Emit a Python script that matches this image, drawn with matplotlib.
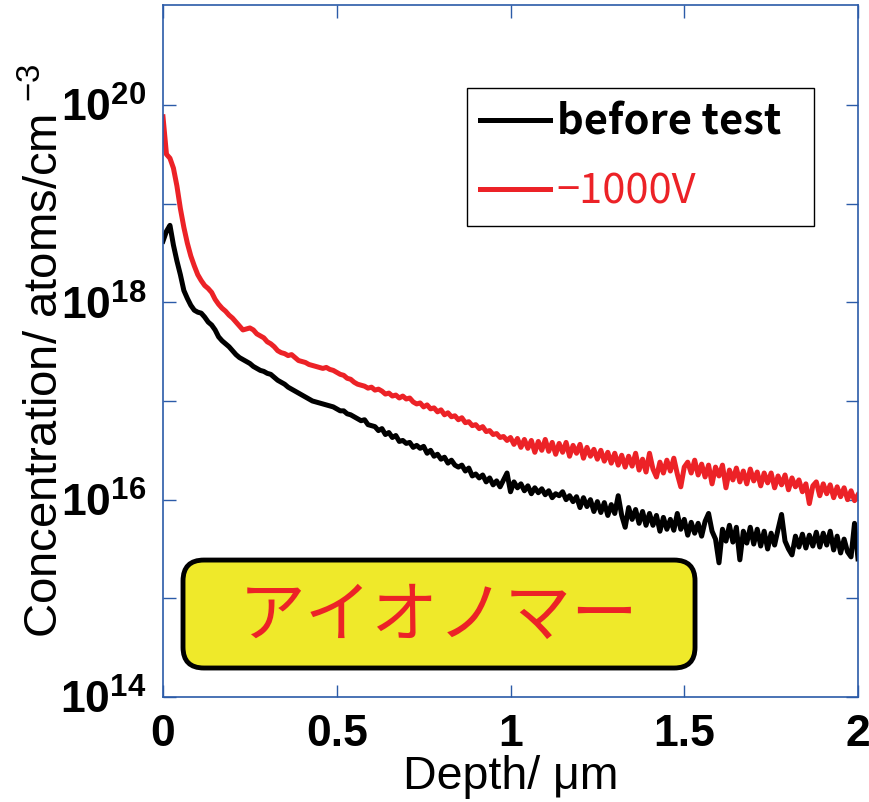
import numpy as np
import matplotlib
matplotlib.use('Agg')
import matplotlib.pyplot as plt
from matplotlib.patches import FancyBboxPatch
from matplotlib.ticker import NullLocator

# depth grid (um) and log10 concentration
depth = np.linspace(0, 2, 201)

before_log = [
    18.62, 18.72, 18.78, 18.58, 18.42, 18.28, 18.12, 18.04, 17.97, 17.92,
    17.90, 17.89, 17.85, 17.80, 17.77, 17.72, 17.65, 17.61, 17.58, 17.55,
    17.51, 17.47, 17.44, 17.42, 17.40, 17.38, 17.35, 17.33, 17.31, 17.30,
    17.28, 17.27, 17.24, 17.21, 17.19, 17.17, 17.14, 17.12, 17.10, 17.08,
    17.06, 17.04, 17.02, 17.00, 16.99, 16.98, 16.97, 16.96, 16.95, 16.94,
    16.92, 16.90, 16.90, 16.87, 16.86, 16.84, 16.82, 16.80, 16.81, 16.76,
    16.75, 16.74, 16.70, 16.72, 16.66, 16.68, 16.63, 16.65, 16.59, 16.60,
    16.57, 16.58, 16.53, 16.55, 16.52, 16.54, 16.47, 16.50, 16.44, 16.46,
    16.41, 16.43, 16.37, 16.40, 16.35, 16.33, 16.35, 16.29, 16.32, 16.24,
    16.26, 16.22, 16.25, 16.18, 16.22, 16.15, 16.19, 16.13, 16.20, 16.27,
    16.08, 16.18, 16.12, 16.16, 16.09, 16.14, 16.06, 16.12, 16.07, 16.11,
    16.05, 16.09, 16.02, 16.06, 16.04, 16.08, 16.00, 16.04, 15.98, 16.03,
    15.92, 16.02, 15.93, 16.00, 15.88, 15.98, 15.87, 15.97, 15.84, 15.95,
    15.86, 16.04, 15.84, 15.72, 15.92, 15.80, 15.90, 15.76, 15.88, 15.74,
    15.86, 15.74, 15.84, 15.68, 15.82, 15.70, 15.80, 15.69, 15.86, 15.70,
    15.80, 15.64, 15.77, 15.66, 15.76, 15.63, 15.78, 15.86, 15.68, 15.60,
    15.36, 15.70, 15.58, 15.74, 15.57, 15.72, 15.39, 15.68, 15.56, 15.72,
    15.55, 15.70, 15.53, 15.68, 15.50, 15.66, 15.54, 15.70, 15.85, 15.58,
    15.50, 15.44, 15.63, 15.52, 15.65, 15.51, 15.64, 15.53, 15.67, 15.52,
    15.66, 15.54, 15.68, 15.49, 15.63, 15.46, 15.60, 15.47, 15.42, 15.76,
    15.40,
]

v1000_log = [
    19.88, 19.50, 19.46, 19.36, 19.18, 18.95, 18.76, 18.60, 18.47, 18.37,
    18.28, 18.22, 18.17, 18.14, 18.10, 18.03, 17.98, 17.94, 17.91, 17.87,
    17.84, 17.80, 17.76, 17.72, 17.73, 17.74, 17.72, 17.68, 17.66, 17.64,
    17.60, 17.58, 17.55, 17.51, 17.49, 17.48, 17.46, 17.47, 17.44, 17.41,
    17.40, 17.39, 17.37, 17.36, 17.35, 17.34, 17.33, 17.34, 17.32, 17.31,
    17.29, 17.27, 17.26, 17.23, 17.22, 17.19, 17.17, 17.16, 17.15, 17.13,
    17.14, 17.11, 17.12, 17.10, 17.07, 17.08, 17.05, 17.06, 17.03, 17.05,
    17.02, 17.03, 16.99, 16.97, 16.98, 16.94, 16.96, 16.92, 16.93, 16.89,
    16.91, 16.86, 16.88, 16.84, 16.85, 16.81, 16.83, 16.78, 16.79, 16.75,
    16.76, 16.72, 16.74, 16.69, 16.70, 16.66, 16.67, 16.63, 16.64, 16.60,
    16.63, 16.56, 16.62, 16.53, 16.61, 16.52, 16.60, 16.48, 16.59, 16.50,
    16.61, 16.49, 16.58, 16.46, 16.57, 16.48, 16.58, 16.44, 16.55, 16.47,
    16.56, 16.42, 16.53, 16.44, 16.51, 16.41, 16.50, 16.39, 16.48, 16.37,
    16.47, 16.35, 16.45, 16.33, 16.44, 16.34, 16.47, 16.30, 16.41, 16.28,
    16.47, 16.31, 16.23, 16.38, 16.27, 16.40, 16.29, 16.42, 16.26, 16.13,
    16.33, 16.38, 16.27, 16.40, 16.25, 16.36, 16.23, 16.35, 16.16, 16.33,
    16.24, 16.35, 16.12, 16.30, 16.20, 16.32, 16.18, 16.29, 16.16, 16.31,
    16.19, 16.28, 16.14, 16.27, 16.17, 16.27, 16.12, 16.24, 16.15, 16.25,
    16.10, 16.22, 16.13, 16.20, 16.08, 16.16, 15.96, 16.14, 16.18, 16.04,
    16.16, 16.06, 16.15, 16.02, 16.13, 16.03, 16.12, 16.00, 16.09, 15.99,
    16.05,
]

series_labels = ['before test', '\u22121000V']
ytick_vals = [1e14, 1e15, 1e16, 1e17, 1e18, 1e19, 1e20]
ytick_text = [r'$\mathbf{10^{14}}$', '', r'$\mathbf{10^{16}}$', '',
              r'$\mathbf{10^{18}}$', '', r'$\mathbf{10^{20}}$']
xtick_vals = [0, 0.5, 1, 1.5, 2]
xtick_text = ['0', '0.5', '1', '1.5', '2']
badge_text = 'アイオノマー'

RED = '#ec2227'
BLUE = '#2b5ba8'

plt.rcParams['mathtext.fontset'] = 'custom'
plt.rcParams['mathtext.rm'] = 'Liberation Sans'
plt.rcParams['mathtext.bf'] = 'Liberation Sans:bold'
plt.rcParams['font.family'] = ['Liberation Sans', 'DejaVu Sans']

fig = plt.figure(figsize=(8.69, 8.02), dpi=100)
ax = fig.add_axes([163/869, 105/802, 695/869, 692/802])

ax.plot(depth, 10**np.array(before_log), color='black', lw=3.6, label=series_labels[0])
ax.plot(depth, 10**np.array(v1000_log), color=RED, lw=3.6, label=series_labels[1])

ax.set_yscale('log')
ax.set_xlim(0, 2)
ax.set_ylim(1e14, 10**21.013)
ax.set_yticks(ytick_vals)
ax.set_yticklabels(ytick_text)
ax.yaxis.set_minor_locator(NullLocator())
ax.set_xticks(xtick_vals)
ax.set_xticklabels(xtick_text, fontweight='bold')

ax.tick_params(direction='in', length=9, width=1, color=BLUE, top=True, right=True,
               labelsize=32)
ax.tick_params(axis='x', pad=12)
ax.tick_params(axis='y', pad=12)
for s in ax.spines.values():
    s.set_color(BLUE)
    s.set_linewidth(1.2)

ax.set_xlabel('Depth/ μm', fontsize=33.5, labelpad=0)
ax.set_ylabel(r'Concentration/ atoms/cm$^{\ \mathrm{-3}}$', fontsize=34, labelpad=-6)

leg = ax.legend(loc='upper left', bbox_to_anchor=(0.437, 0.675, 0.5, 0.205), mode='expand',
                prop={'family': 'Noto Sans CJK JP', 'size': 30},
                handlelength=1.68, handletextpad=0.15, borderpad=0.33, labelspacing=0.66,
                borderaxespad=0, fancybox=False, framealpha=1, edgecolor='black')
leg.get_frame().set_linewidth(1.0)
leg.get_texts()[0].set_fontweight('bold')
leg.get_texts()[1].set_color(RED)

badge = FancyBboxPatch((0.0288, 0.0419), 0.7367, 0.156,
                       boxstyle='round,pad=0,rounding_size=0.03', transform=ax.transAxes,
                       fc='#efe92a', ec='black', lw=3.5, zorder=3)
ax.add_patch(badge)
ax.text(0.397, 0.116, badge_text, transform=ax.transAxes, ha='center', va='center',
        color=RED, fontsize=48, family='Noto Sans CJK JP', zorder=4)

fig.savefig('out.png', dpi=100)
